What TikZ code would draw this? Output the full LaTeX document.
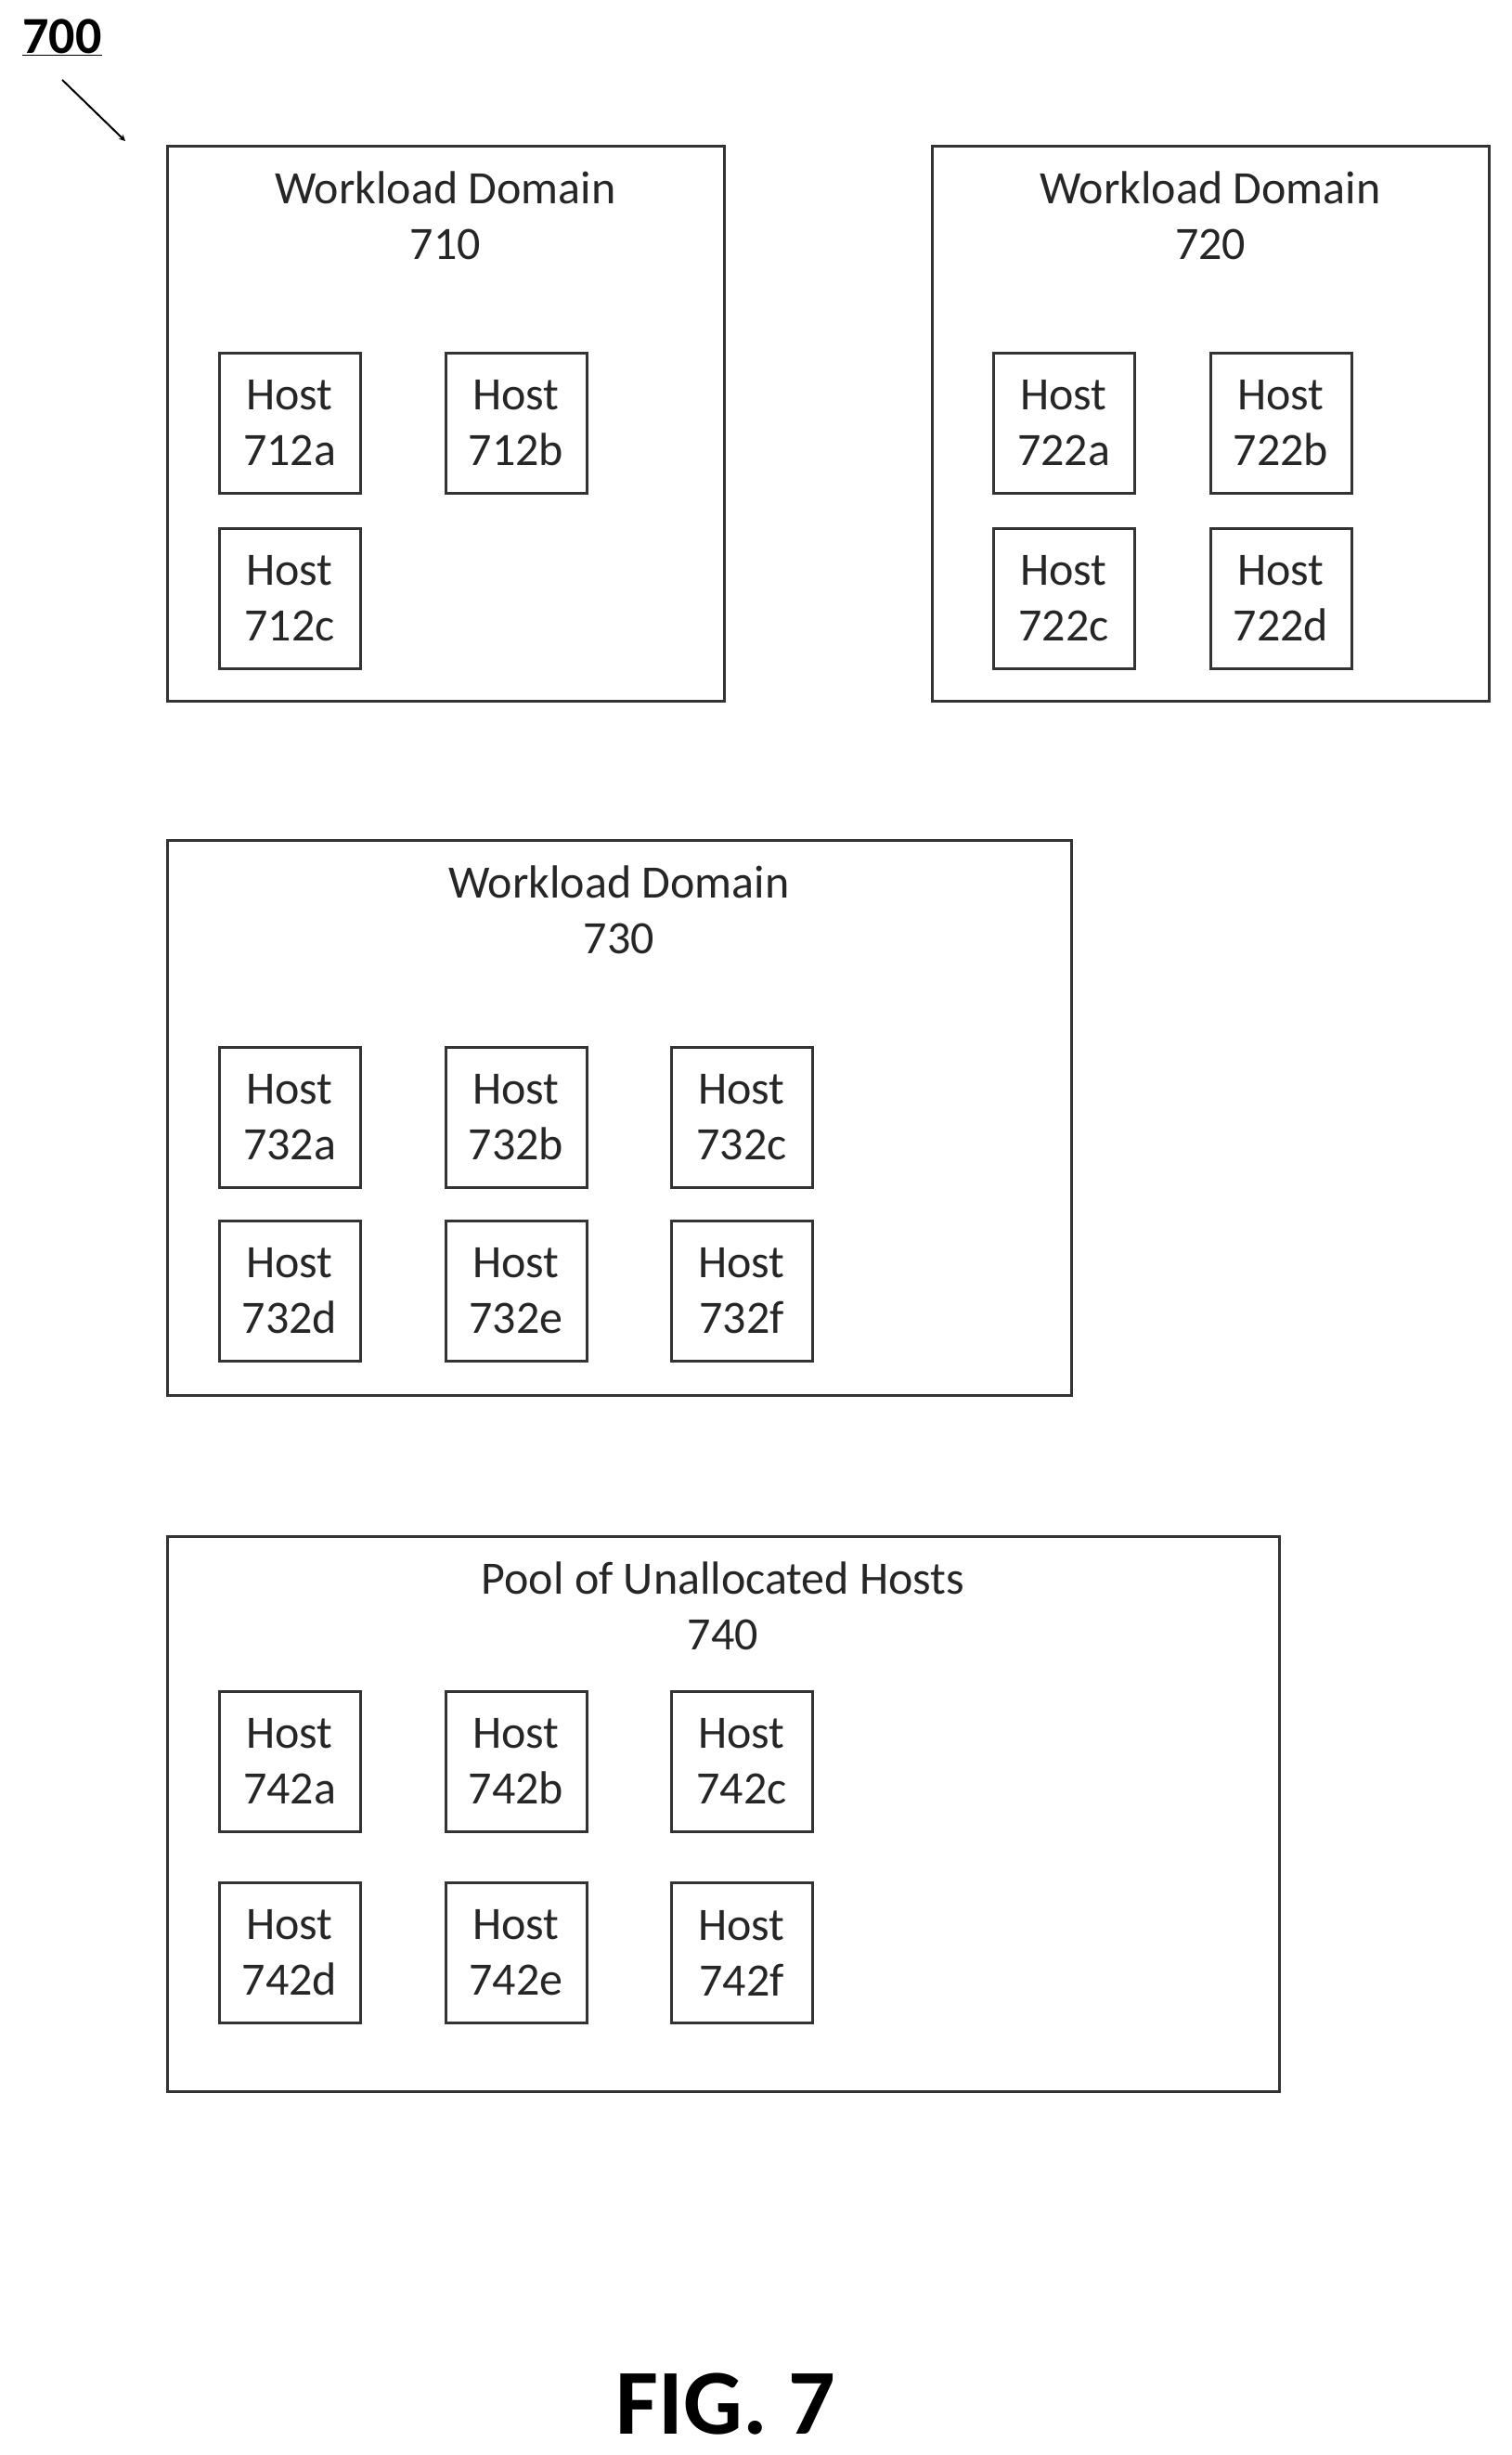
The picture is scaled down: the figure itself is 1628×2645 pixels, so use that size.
\documentclass[tikz,border=0pt]{standalone}
\usepackage{fontspec}
\setmainfont{Carlito}
\begin{document}
\begin{tikzpicture}[x=1pt,y=-1pt,
  dom/.style={draw=black!80,line width=3pt},
  host/.style={draw=black!80,line width=3pt,minimum width=152pt,minimum height=151pt,inner sep=0pt,
    font=\fontsize{50}{60}\selectfont,text=black!85,align=center},
  txt/.style={font=\fontsize{50}{60}\selectfont,text=black!85,align=center}]
\useasboundingbox (0,0) rectangle (1628,2645);
\newcommand{\hst}[4]{\node[host] (#1) at (#2+76,#3+75) {Host\\#4};}
\node[font=\fontsize{56}{60}\selectfont\bfseries] (lbl) at (67,40) {\underline{700}};
\coordinate (a0) at (67,86); \coordinate (a1) at (135,152);
\draw[line width=2pt,->,>=stealth] (a0) -- (a1);
% 710
\draw[dom] (180,157) rectangle (780,755);
\node[txt] (t710) at (480,232) {Workload Domain\\710};
\hst{h712a}{236}{381}{712a}
\hst{h712b}{480}{381}{712b}
\hst{h712c}{236}{570}{712c}
% 720
\draw[dom] (1004,157) rectangle (1604,755);
\node[txt] (t720) at (1304,232) {Workload Domain\\720};
\hst{h722a}{1070}{381}{722a}
\hst{h722b}{1304}{381}{722b}
\hst{h722c}{1070}{570}{722c}
\hst{h722d}{1304}{570}{722d}
% 730
\draw[dom] (180,905) rectangle (1154,1503);
\node[txt] (t730) at (667,980) {Workload Domain\\730};
\hst{h732a}{236}{1129}{732a}
\hst{h732b}{480}{1129}{732b}
\hst{h732c}{723}{1129}{732c}
\hst{h732d}{236}{1316}{732d}
\hst{h732e}{480}{1316}{732e}
\hst{h732f}{723}{1316}{732f}
% 740
\draw[dom] (180,1655) rectangle (1378,2253);
\node[txt] (t740) at (779,1730) {Pool of Unallocated Hosts\\740};
\hst{h742a}{236}{1823}{742a}
\hst{h742b}{480}{1823}{742b}
\hst{h742c}{723}{1823}{742c}
\hst{h742d}{236}{2029}{742d}
\hst{h742e}{480}{2029}{742e}
\hst{h742f}{723}{2029}{742f}
\node[font=\fontsize{100}{110}\selectfont\bfseries] (fig) at (782,2590) {FIG. 7};
\end{tikzpicture}
\end{document}
